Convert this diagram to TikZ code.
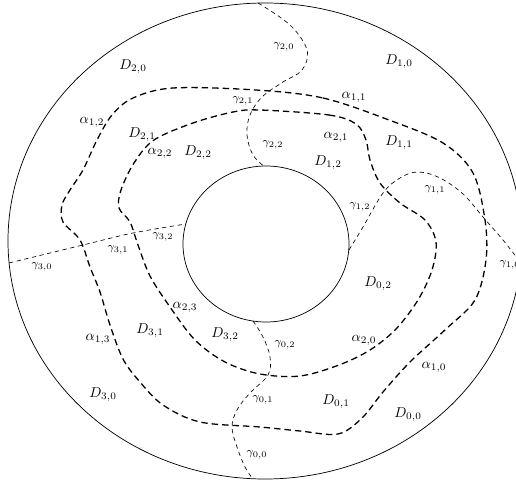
\documentclass[tikz,border=0pt]{standalone}
\begin{document}
\begin{tikzpicture}[x=0.7pt,y=-0.7pt,
  rim/.style={line width=0.5pt},
  acurve/.style={line width=0.9pt,dash pattern=on 4.5pt off 2.8pt},
  gcurve/.style={line width=0.45pt,dash pattern=on 3pt off 2.5pt},
  dlab/.style={inner sep=0pt},
  alab/.style={inner sep=0pt},
  glab/.style={inner sep=0pt,font=\footnotesize}]
\useasboundingbox (0,0) rectangle (516,484);
% boundary circles
\draw[rim] (265,241) ellipse [x radius=257, y radius=238];
\draw[rim] (266,244) ellipse [x radius=83, y radius=78];
% alpha curves
\draw[acurve] plot[smooth cycle, tension=0.55] coordinates {
 (256,90) (323,98) (389,120) (443,143) (473,173) (485,220) (486,260)
 (475,300) (446,329) (410,362) (383,392) (362,418) (338,434) (300,431)
 (260,427) (200,422) (163,405) (140,382) (123,359) (110,325) (100,292)
 (90,267) (80,240) (63,222) (62,205) (70,190) (83,170) (97,140) (112,115)
 (133,98) (173,88)};
\draw[acurve] plot[smooth cycle, tension=0.55] coordinates {
 (260,110) (329,115) (356,124) (366,140) (370,160) (380,183) (400,203)
 (425,220) (436,242) (432,270) (418,300) (396,329) (370,350) (339,365)
 (300,376) (260,374) (225,362) (195,340) (170,307) (150,276) (138,245)
 (130,222) (119,208) (121,190) (134,163) (154,140) (193,123) (233,112)};
% gamma curves
\coordinate (g2o) at (258,3);   \coordinate (g2i) at (265,167);
\coordinate (g3o) at (9,263);   \coordinate (g3i) at (186,224);
\coordinate (g1i) at (349,250); \coordinate (g1o) at (521,263);
\coordinate (g0i) at (253,321); \coordinate (g0o) at (253,479);
\draw[gcurve] plot[smooth, tension=0.6] coordinates {
 (g2o) (290,25) (307,50) (302,70) (283,82) (262,97) (250,115) (247,135) (253,155) (g2i)};
\draw[gcurve] plot[smooth, tension=0.6] coordinates {
 (g3o) (83,245) (133,233) (g3i)};
\draw[gcurve] plot[smooth, tension=0.6] coordinates {
 (g1i) (363,227) (383,193) (400,178) (418,172) (440,178) (463,194) (483,217) (503,240) (g1o)};
\draw[gcurve] plot[smooth, tension=0.6] coordinates {
 (g0i) (263,337) (270,357) (268,375) (250,393) (237,410) (232,427) (237,447) (245,467) (g0o)};
% region labels
\node[dlab] (d20) at (133,67) {$D_{2,0}$};
\node[dlab] (d10) at (399,62) {$D_{1,0}$};
\node[dlab] (d21) at (142,135) {$D_{2,1}$};
\node[dlab] (d22) at (198,153) {$D_{2,2}$};
\node[dlab] (d11) at (399,143) {$D_{1,1}$};
\node[dlab] (d12) at (328,163) {$D_{1,2}$};
\node[dlab] (d02) at (378,284) {$D_{0,2}$};
\node[dlab] (d31) at (150,331) {$D_{3,1}$};
\node[dlab] (d32) at (225,335) {$D_{3,2}$};
\node[dlab] (d01) at (336,402) {$D_{0,1}$};
\node[dlab] (d00) at (408,415) {$D_{0,0}$};
\node[dlab] (d30) at (103,395) {$D_{3,0}$};
% alpha labels
\node[alab] (a12) at (92,122) {$\alpha_{1,2}$};
\node[alab] (a22) at (160,153) {$\alpha_{2,2}$};
\node[alab] (a11) at (354,97) {$\alpha_{1,1}$};
\node[alab] (a21) at (336,137) {$\alpha_{2,1}$};
\node[alab] (a20) at (364,340) {$\alpha_{2,0}$};
\node[alab] (a10) at (434,367) {$\alpha_{1,0}$};
\node[alab] (a23) at (185,307) {$\alpha_{2,3}$};
\node[alab] (a13) at (98,339) {$\alpha_{1,3}$};
% gamma labels
\node[glab] (g20) at (284,47) {$\gamma_{2,0}$};
\node[glab] (g21) at (243,101) {$\gamma_{2,1}$};
\node[glab] (g22) at (273,145) {$\gamma_{2,2}$};
\node[glab] (g11) at (435,190) {$\gamma_{1,1}$};
\node[glab] (g12) at (360,207) {$\gamma_{1,2}$};
\node[glab] (g10) at (510,265) {$\gamma_{1,0}$};
\node[glab] (g32) at (163,237) {$\gamma_{3,2}$};
\node[glab] (g31) at (118,250) {$\gamma_{3,1}$};
\node[glab] (g30) at (42,267) {$\gamma_{3,0}$};
\node[glab] (g02) at (285,345) {$\gamma_{0,2}$};
\node[glab] (g01) at (263,400) {$\gamma_{0,1}$};
\node[glab] (g00) at (257,455) {$\gamma_{0,0}$};
\end{tikzpicture}
\end{document}
